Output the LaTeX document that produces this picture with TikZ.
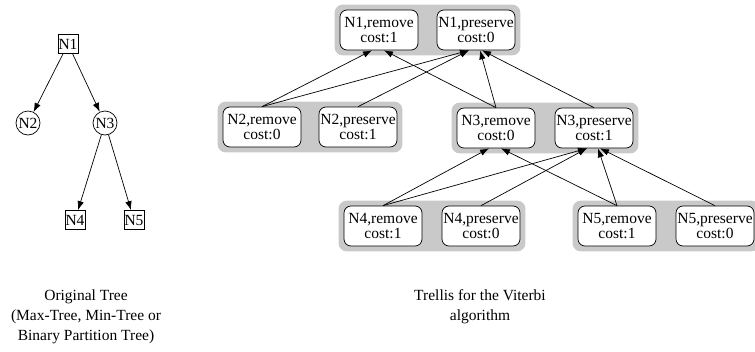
\documentclass[tikz,border=0pt]{standalone}
\usepackage{fontspec}
\setmainfont{Liberation Serif}
\usetikzlibrary{arrows.meta,fit,backgrounds}

\begin{document}
\begin{tikzpicture}[x=1pt,y=-1pt,>={Latex[length=9pt,width=6.5pt]},
  treesq/.style={draw,line width=0.7pt,inner sep=0.5pt,minimum width=20pt,minimum height=19pt,font=\fontsize{15.5}{15}\selectfont},
  treecirc/.style={draw,circle,line width=0.7pt,inner sep=0pt,minimum size=24pt,font=\fontsize{15.5}{15}\selectfont},
  trellisbox/.style={draw,rounded corners=7pt,fill=white,line width=0.7pt,minimum width=78pt,minimum height=40pt,align=center,inner sep=0.5pt,font=\fontsize{15.5}{15}\selectfont},
  groupbg/.style={fill=gray!42,rounded corners=8pt,inner sep=5pt},
  caption/.style={align=center,font=\fontsize{15.5}{20}\selectfont},
  link/.style={->,line width=0.7pt}]
\useasboundingbox (0,0) rectangle (755,351);
% original tree
\node[treesq] (t1) at (68,44) {N1};
\node[treecirc] (t2) at (28,123) {N2};
\node[treecirc] (t3) at (105,123) {N3};
\node[treesq] (t4) at (75,220) {N4};
\node[treesq] (t5) at (134,220) {N5};
\draw[link] (t1)--(t2);
\draw[link] (t1)--(t3);
\draw[link] (t3)--(t4);
\draw[link] (t3)--(t5);
% trellis
\node[trellisbox] (n1r) at (379,30) {N1,remove\\cost:1};
\node[trellisbox] (n1p) at (476,30) {N1,preserve\\cost:0};
\node[trellisbox] (n2r) at (262,127) {N2,remove\\cost:0};
\node[trellisbox] (n2p) at (358,127) {N2,preserve\\cost:1};
\node[trellisbox] (n3r) at (496,128) {N3,remove\\cost:0};
\node[trellisbox] (n3p) at (594,128) {N3,preserve\\cost:1};
\node[trellisbox] (n4r) at (383,226) {N4,remove\\cost:1};
\node[trellisbox] (n4p) at (481,226) {N4,preserve\\cost:0};
\node[trellisbox] (n5r) at (617,226) {N5,remove\\cost:1};
\node[trellisbox] (n5p) at (715,226) {N5,preserve\\cost:0};
\begin{scope}[on background layer]
\node[groupbg,fit=(n1r)(n1p)] (g1) {};
\node[groupbg,fit=(n2r)(n2p)] (g2) {};
\node[groupbg,fit=(n3r)(n3p)] (g3) {};
\node[groupbg,fit=(n4r)(n4p)] (g4) {};
\node[groupbg,fit=(n5r)(n5p)] (g5) {};
\end{scope}
\draw[link] (n2r.north)--([xshift=-7pt]n1r.south);
\draw[link] (n2r.north)--([xshift=-7pt]n1p.south);
\draw[link] (n2p.north)--([xshift=-7pt]n1p.south);
\draw[link] (n3r.north)--([xshift=5pt]n1r.south);
\draw[link] (n3r.north)--([xshift=4pt]n1p.south);
\draw[link] (n3p.north)--([xshift=6pt]n1p.south);
\draw[link] (n4r.north)--([xshift=-7pt]n3r.south);
\draw[link] (n4r.north)--([xshift=-7pt]n3p.south);
\draw[link] (n4p.north)--([xshift=-7pt]n3p.south);
\draw[link] (n5r.north)--([xshift=5pt]n3r.south);
\draw[link] (n5r.north)--([xshift=4pt]n3p.south);
\draw[link] (n5p.north)--([xshift=6pt]n3p.south);
% captions
\node[caption] (cap1) at (86,317) {Original Tree\\(Max-Tree, Min-Tree or\\Binary Partition Tree)};
\node[caption] (cap2) at (480,307) {Trellis for the Viterbi\\algorithm};
\end{tikzpicture}
\end{document}
